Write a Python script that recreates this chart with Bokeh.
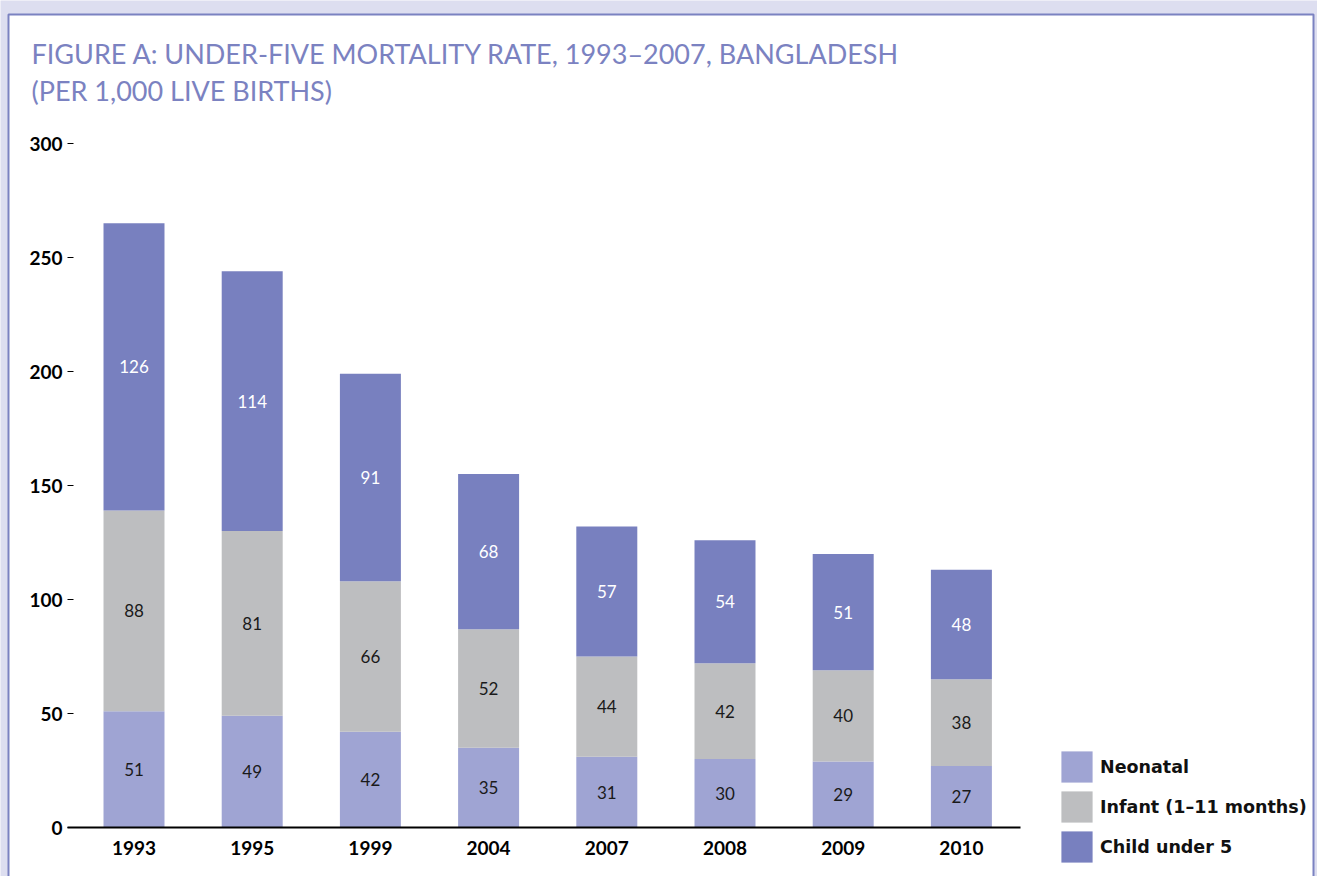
from bokeh.plotting import figure
from bokeh.models import (ColumnDataSource, FixedTicker, Legend, LegendItem,
                          BoxAnnotation, Range1d, Label)
from bokeh.core.properties import value
from bokeh.embed import file_html
from bokeh.resources import INLINE

years = ["1993", "1995", "1999", "2004", "2007", "2008", "2009", "2010"]
neonatal = [51, 49, 42, 35, 31, 30, 29, 27]
infant = [88, 81, 66, 52, 44, 42, 40, 38]
child = [126, 114, 91, 68, 57, 54, 51, 48]
series_names = ["Neonatal", "Infant (1–11 months)", "Child under 5"]
colors = ["#9FA4D3", "#BDBEC0", "#7880BF"]
y_ticks = [0, 50, 100, 150, 200, 250, 300]
title_lines = ["FIGURE A: UNDER-FIVE MORTALITY RATE, 1993–2007, BANGLADESH",
               "(PER 1,000 LIVE BIRTHS)"]

FONT = "Lato"
LEGEND_FONT = "DejaVu Sans"
TITLE_COLOR = "#7B82C1"
W, H = 1317, 876

xs = list(range(len(years)))

# pixel geometry of the plotting area (layout, not data)
X0_PX, DX_PX = 133.5, 118.2      # centre of first bar, spacing
Y0_PX, DY_PX = 827.0, 2.28       # baseline, px per unit
x_start = -X0_PX / DX_PX
x_end = x_start + W / DX_PX
y_start = -(H - Y0_PX) / DY_PX
y_end = Y0_PX / DY_PX
axis_left = x_start + 67 / DX_PX
axis_right = x_start + 1020 / DX_PX

p = figure(width=W, height=H,
           x_range=Range1d(x_start, x_end), y_range=Range1d(y_start, y_end),
           output_backend="svg", toolbar_location=None,
           min_border_left=0, min_border_right=0,
           min_border_top=0, min_border_bottom=0)
p.border_fill_color = "#DDDEF0"
p.background_fill_color = "#DDDEF0"
p.outline_line_color = None
p.xgrid.visible = False
p.ygrid.visible = False

panel = BoxAnnotation(left=8, right=1313, top=14, bottom=H + 20,
                      left_units="canvas", right_units="canvas",
                      top_units="canvas", bottom_units="canvas",
                      fill_color="white", fill_alpha=1.0,
                      line_color="#7B82C1", line_alpha=1.0, line_width=2,
                      level="image")
p.add_layout(panel)

src = ColumnDataSource(dict(x=xs, neonatal=neonatal, infant=infant, child=child))
renderers = p.vbar_stack(["neonatal", "infant", "child"], x="x", width=0.516,
                         color=colors, line_color=None, source=src)

# value labels centred in each segment
lab_x, lab_y, lab_t, lab_c = [], [], [], []
for i in xs:
    b = 0
    for vals, col in ((neonatal, "#1a1a1a"), (infant, "#1a1a1a"), (child, "white")):
        v = vals[i]
        lab_x.append(i)
        lab_y.append(b + v / 2)
        lab_t.append(str(v))
        lab_c.append(col)
        b += v
lsrc = ColumnDataSource(dict(x=lab_x, y=lab_y, t=lab_t, c=lab_c))
p.text(x="x", y="y", text="t", text_color="c", source=lsrc,
       text_align="center", text_baseline="middle",
       text_font=value(FONT), text_font_size="17px")

# axes
xa = p.xaxis[0]
xa.fixed_location = 0
xa.bounds = (axis_left, axis_right)
xa.ticker = FixedTicker(ticks=xs)
xa.major_label_overrides = {i: y for i, y in zip(xs, years)}
xa.axis_line_color = "black"
xa.axis_line_width = 2
xa.major_tick_line_color = None
xa.minor_tick_line_color = None
xa.major_label_standoff = 7
xa.major_label_text_font = FONT
xa.major_label_text_font_style = "bold"
xa.major_label_text_font_size = "19px"
xa.major_label_text_color = "black"

ya = p.yaxis[0]
ya.fixed_location = axis_left
ya.ticker = FixedTicker(ticks=y_ticks)
ya.axis_line_color = None
ya.major_tick_in = 6
ya.major_tick_out = 0
ya.major_tick_line_color = "black"
ya.major_tick_line_width = 1
ya.minor_tick_line_color = None
ya.major_label_standoff = 5
ya.major_label_text_font = FONT
ya.major_label_text_font_style = "bold"
ya.major_label_text_font_size = "19px"
ya.major_label_text_color = "black"

# title
for line, yb in zip(title_lines, [53, 90]):
    p.add_layout(Label(x=31, y=yb, x_units="canvas", y_units="canvas",
                       text=line, text_font=FONT, text_font_size="27px",
                       text_color=TITLE_COLOR, text_baseline="alphabetic",
                       text_align="left"))

# legend swatches are drawn with a 10% inset, so the slot is a bit larger
legend = Legend(items=[LegendItem(label=n, renderers=[r])
                       for n, r in zip(series_names, renderers)],
                location=(1057, H - 866), orientation="vertical",
                glyph_width=39, glyph_height=39, spacing=1,
                label_standoff=4, padding=0, margin=0,
                border_line_color=None, background_fill_alpha=0,
                label_text_font=LEGEND_FONT, label_text_font_style="bold",
                label_text_font_size="17.5px", label_text_color="#111111")
p.add_layout(legend)

open("out.html", "w").write(file_html(p, INLINE))
